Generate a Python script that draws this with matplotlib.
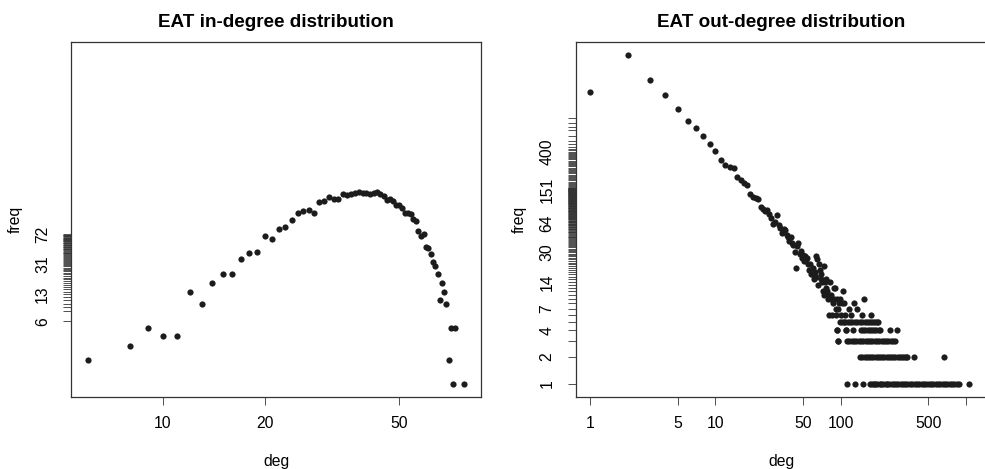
import matplotlib
matplotlib.use('Agg')
import matplotlib.pyplot as plt
from matplotlib.ticker import FixedLocator, FixedFormatter, NullLocator

plt.rcParams['font.family'] = ['Liberation Sans', 'DejaVu Sans']

# in-degree distribution (deg, freq)
in_deg = [6, 8, 9, 10, 11, 12, 13, 14, 15, 16, 17, 18, 19, 20, 21, 22, 23, 24, 25,
          26, 27, 28, 29, 30, 31, 32, 33, 34, 35, 36, 37, 38, 39, 40, 41, 42, 43, 44,
          45, 46, 47, 48, 49, 50, 51, 52, 53, 54, 55, 56, 57, 58, 59, 60, 61, 62, 63,
          64, 65, 66, 67, 68, 69, 70, 71, 72, 73, 78]
in_freq = [2, 3, 5, 4, 4, 14, 10, 18, 23, 23, 36, 42, 44, 68, 64, 84, 90, 109, 132,
           139, 145, 132, 182, 188, 211, 199, 196, 226, 220, 230, 233, 241, 237, 235, 230, 237, 241, 230,
           215, 192, 196, 190, 167, 167, 155, 134, 133, 128, 113, 106, 80, 68, 72, 50, 49, 41, 33,
           29, 23, 11, 18, 14, 10, 2, 5, 1, 5, 1]

# out-degree distribution, body (deg, freq)
out_deg = [1, 2, 3, 4, 5, 6, 7, 8, 9, 10, 11, 12, 13, 14, 15, 16, 17, 18, 19, 20,
           21, 22, 23, 24, 25, 26, 27, 28, 29, 30, 31, 32, 33, 34, 35, 36, 37, 38, 39, 40,
           41, 42, 43, 44, 45, 46, 47, 48, 49, 50, 51, 52, 53, 54, 55, 56, 57, 58, 59, 60,
           61, 62, 63, 64, 65, 66, 67, 68, 69, 70, 71, 72, 73, 74, 75, 76, 77, 78, 79, 80,
           81, 82, 83, 84, 85, 86, 87, 88, 89, 90, 91, 92, 93, 94, 95, 96, 97, 98, 99, 100,
           102, 103, 105, 106, 108, 109, 110]
out_freq = [1880, 4880, 2580, 1725, 1220, 895, 735, 598, 494, 413, 322, 285, 273, 265, 211, 192, 180, 169, 135, 126,
            121, 118, 97, 92, 86, 89, 80, 72, 63, 66, 78, 60, 56, 49, 54, 53, 47, 45, 40, 44,
            38, 36, 30, 20, 35, 38, 29, 31, 26, 28, 24, 27, 25, 26, 22, 19, 22, 17, 17, 20,
            15, 18, 27, 16, 25, 13, 22, 19, 15, 17, 14, 11, 21, 10, 14, 12, 15, 11, 9, 10,
            6, 14, 9, 10, 6, 9, 8, 12, 9, 12, 6, 7, 4, 9, 7, 3, 8, 5, 9, 6,
            8, 5, 11, 8, 5, 6, 4]

# out-degree tail: degrees that occur once, twice, ...
tail_f1 = [113, 131, 152, 172, 177, 183, 189, 196, 204, 211, 219, 228, 236, 245, 255, 265,
           276, 288, 301, 312, 326, 341, 355, 371, 388, 405, 423, 442, 461, 481, 502, 525,
           548, 572, 597, 624, 651, 680, 710, 741, 774, 808, 843, 872, 1052]
tail_f2 = [143, 149, 156, 162, 169, 175, 182, 190, 198, 206, 214, 223, 232, 242, 252, 262,
           273, 284, 296, 308, 320, 330, 339, 382, 664]
tail_f3 = [96, 112, 117, 122, 127, 133, 139, 145, 151, 158, 165, 171, 179, 187, 195, 203,
           212, 221, 230, 240, 250, 261, 273]
tail_f4 = [93, 111, 126, 144, 150, 157, 164, 170, 178, 185, 193, 201, 207, 249, 282]
tail_f5 = [107, 114, 119, 124, 130, 136, 142, 148, 155, 161, 167, 174, 181, 188, 194, 200]
tail_f6 = [121, 147, 173]
tail_f7 = [116, 135]
tail_f8 = [128]
tail_f9 = [153]

# axis ticks
in_xticks = [10, 20, 50]
in_yticks = [6] + list(range(8, 73))
in_ylabels = [6, 13, 31, 72]
out_xticks = [1, 5, 10, 50, 100, 500, 1000]
out_xlabels = ['1', '5', '10', '50', '100', '500', '']
out_yticks = list(range(1, 161)) + [165, 170, 175, 181, 186, 192, 198, 204, 210, 217, 223,
                                    230, 237, 244, 252, 259, 267, 275, 284, 292, 301, 310,
                                    320, 330, 340, 350, 360, 371, 382, 394, 400, 418, 431,
                                    457, 485, 530, 598, 705, 767, 837, 960]
out_ylabels = [1, 2, 4, 7, 14, 30, 64, 151, 400]

tails = [tail_f1, tail_f2, tail_f3, tail_f4, tail_f5, tail_f6, tail_f7, tail_f8, tail_f9]
all_out_deg = list(out_deg)
all_out_freq = list(out_freq)
for f, degs in enumerate(tails, start=1):
    all_out_deg += degs
    all_out_freq += [f] * len(degs)

fig = plt.figure(figsize=(9.85, 4.69), dpi=100)
ax1 = fig.add_axes([71 / 985, 72 / 469, 410 / 985, 355 / 469])
ax2 = fig.add_axes([575.5 / 985, 72 / 469, 412 / 985, 355 / 469])

dot = '#1c1c1c'
ax1.scatter(in_deg, in_freq, s=20, color=dot, linewidths=0, zorder=3)
ax2.scatter(all_out_deg, all_out_freq, s=20, color=dot, linewidths=0, zorder=3)


def style(ax, xticks, xlabels, yticks, ylabels, title):
    ax.set_xscale('log')
    ax.set_yscale('log')
    ax.xaxis.set_major_locator(FixedLocator(xticks))
    ax.xaxis.set_major_formatter(FixedFormatter(xlabels))
    ax.xaxis.set_minor_locator(NullLocator())
    ax.yaxis.set_major_locator(FixedLocator(yticks))
    ax.yaxis.set_major_formatter(FixedFormatter([str(v) if v in ylabels else '' for v in yticks]))
    ax.yaxis.set_minor_locator(NullLocator())
    ax.tick_params(axis='both', length=6, width=0.6, color='#333333', labelsize=11.3)
    ax.tick_params(axis='x', pad=8)
    ax.tick_params(axis='y', pad=9)
    for lab in ax.get_yticklabels():
        lab.set_rotation(90)
        lab.set_va('center')
    for sp in ax.spines.values():
        sp.set_color('#333333')
        sp.set_linewidth(0.9)
    ax.set_title(title, fontsize=13.6, fontweight='bold', pad=11)
    ax.set_xlabel('deg', fontsize=11.3, labelpad=16)
    ax.set_ylabel('freq', fontsize=11.3, labelpad=9)


style(ax1, in_xticks, [str(v) for v in in_xticks], in_yticks, in_ylabels,
      'EAT in-degree distribution')
style(ax2, out_xticks, out_xlabels, out_yticks, out_ylabels,
      'EAT out-degree distribution')

ax1.set_xlim(5.34, 87.3)
ax1.set_ylim(0.69, 17700)
ax2.set_xlim(0.766, 1483)
ax2.set_ylim(0.715, 6830)

fig.savefig('out.png', dpi=100)
